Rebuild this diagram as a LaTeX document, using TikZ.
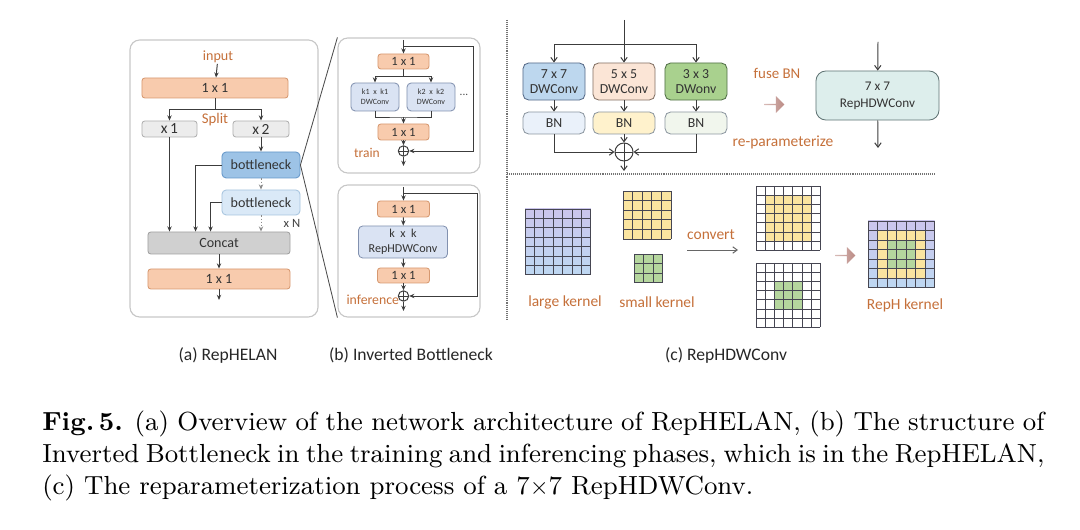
\documentclass[tikz,border=0pt]{standalone}
\usepackage{fontspec}
\usepackage{xcolor}
\usepackage{tikz}
\usetikzlibrary{positioning,arrows.meta,shapes.arrows,calc}
\newfontfamily\carlito{Carlito}
\newfontfamily\capfont{lmroman9-regular.otf}[BoldFont=lmroman9-bold.otf]

\definecolor{labor}{RGB}{197,112,58}
\definecolor{lnc}{RGB}{60,60,60}
\definecolor{peachF}{RGB}{248,203,173}
\definecolor{peachD}{RGB}{214,152,112}
\definecolor{grayF}{RGB}{236,236,236}
\definecolor{grayD}{RGB}{175,175,175}
\definecolor{catF}{RGB}{208,208,208}
\definecolor{catD}{RGB}{160,160,160}
\definecolor{bnAF}{RGB}{157,195,230}
\definecolor{bnAD}{RGB}{100,150,200}
\definecolor{bnBF}{RGB}{218,233,247}
\definecolor{bnBD}{RGB}{165,195,222}
\definecolor{dwbF}{RGB}{218,227,243}
\definecolor{dwbD}{RGB}{130,145,175}
\definecolor{dwsF}{RGB}{189,215,238}
\definecolor{dwsD}{RGB}{85,105,135}
\definecolor{dwmF}{RGB}{251,229,214}
\definecolor{dwmD}{RGB}{130,112,100}
\definecolor{dwlF}{RGB}{169,209,142}
\definecolor{dwlD}{RGB}{80,110,70}
\definecolor{bnsF}{RGB}{234,241,250}
\definecolor{bnmF}{RGB}{255,242,204}
\definecolor{bnlF}{RGB}{241,246,237}
\definecolor{bnxD}{RGB}{140,150,160}
\definecolor{rhF}{RGB}{221,238,236}
\definecolor{rhD}{RGB}{95,115,115}
\definecolor{barF}{RGB}{188,140,134}
\definecolor{kerlav}{RGB}{203,197,236}
\definecolor{kerblu}{RGB}{190,216,242}
\definecolor{keryel}{RGB}{250,228,160}
\definecolor{kergrn}{RGB}{181,214,158}
\definecolor{klineC}{RGB}{70,70,82}

\begin{document}
\begin{tikzpicture}[x=0.025cm, y=-0.025cm,
  panel/.style={rectangle, rounded corners=7pt, draw=black!22, line width=0.8pt},
  box/.style={rectangle, rounded corners=2pt, draw, line width=0.6pt, inner sep=0pt,
             align=center, text=black!80, font=\carlito\fontsize{10}{11}\selectfont},
  peach/.style={box, fill=peachF, draw=peachD},
  grayb/.style={box, fill=grayF, draw=grayD},
  bneck/.style={box, rounded corners=3pt, minimum width=1.95cm},
  dwb/.style={box, rounded corners=3pt, fill=dwbF, draw=dwbD},
  cbox/.style={box, rounded corners=4pt, minimum width=1.55cm,
             font=\carlito\fontsize{9.8}{10.5}\selectfont},
  lbl/.style={inner sep=0.5pt, text=labor, font=\carlito\fontsize{11}{12}\selectfont},
  subcap/.style={inner sep=0pt, text=black!85, font=\carlito\fontsize{12.5}{14}\selectfont},
  figcap/.style={inner sep=0pt, anchor=base west, font=\capfont\fontsize{18.6}{22.8}\selectfont},
  plus/.style={circle, draw=lnc, line width=0.7pt, inner sep=0pt,
             path picture={\draw[lnc, line width=0.7pt]
               (path picture bounding box.north) -- (path picture bounding box.south)
               (path picture bounding box.west) -- (path picture bounding box.east);}},
  blockarr/.style={single arrow, draw=none, left color=barF!60, right color=barF,
             minimum height=0.5cm, minimum width=0.42cm, single arrow head extend=0.09cm,
             inner sep=0pt},
  arr/.style={-{Stealth[length=1.3mm,width=1.1mm]}, line width=0.7pt, lnc},
  darr/.style={-{Stealth[length=1.3mm,width=1.1mm]}, line width=0.7pt, black!45,
             dash pattern=on 1.2pt off 1pt},
  carr/.style={-{Straight Barb[length=1.1mm,width=1.6mm]}, line width=0.7pt, lnc},
  zoomln/.style={line width=0.6pt, black!70},
  sepln/.style={line width=0.8pt, black!55, dash pattern=on 0.7pt off 0.7pt},
  kgrid/.style={line width=0.45pt, klineC},
]
\useasboundingbox (0,0) rectangle (1080,530);

% (a) RepHELAN
\node[panel, minimum width=4.7cm, minimum height=6.925cm] (pa) at (224,178.5) {};
\node[lbl, font=\carlito\fontsize{10}{11}\selectfont] (ain) at (218,57) {input};
\node[peach, minimum width=3.65cm, minimum height=0.5cm] (a1) at (215,88) {1 x 1};
\node[lbl, font=\carlito\fontsize{10.5}{11}\selectfont] (split) at (215,120) {Split};
\node[grayb, minimum width=1.375cm, minimum height=0.4cm, font=\carlito\fontsize{11}{12}\selectfont] (x1) at (169.5,129) {x\,1};
\node[grayb, minimum width=1.4cm, minimum height=0.4cm, font=\carlito\fontsize{11}{12}\selectfont] (x2) at (261,129) {x\,2};
\node[bneck, fill=bnAF, draw=bnAD, minimum height=0.65cm] (bn1) at (261,165) {bottleneck};
\node[bneck, fill=bnBF, draw=bnBD, minimum height=0.625cm] (bn2) at (261,202.5) {bottleneck};
\node[inner sep=0pt, text=black!75, font=\carlito\fontsize{9}{10}\selectfont] (xn) at (292,223) {x N};
\node[box, fill=catF, draw=catD, minimum width=3.55cm, minimum height=0.55cm] (cat) at (219,243) {Concat};
\node[peach, minimum width=3.55cm, minimum height=0.5cm] (a2) at (219,279) {1 x 1};
\coordinate (aout) at (219,300);

\draw[arr] (ain) -- (a1);
\draw[arr] (a1.south) -- ++(0,11) -| (x1.north);
\draw[arr] (a1.south) -- ++(0,11) -| (x2.north);
\draw[arr] (x2) -- (bn1);
\draw[arr] (x1.south) -- (x1.south |- cat.north);
\draw[arr] (bn1.west) -| ([xshift=1.2cm]cat.north west);
\draw[arr] (bn2.west) -| ([xshift=1.575cm]cat.north west);
\draw[darr] (bn1) -- (bn2);
\draw[darr] (bn2.south) -- (bn2.south |- cat.north);
\draw[arr] (cat) -- (a2);
\draw[arr] (a2) -- (aout);

% (b) Inverted Bottleneck, train
\node[panel, minimum width=3.55cm, minimum height=3.375cm] (pb1) at (409,105.5) {};
\coordinate (tin) at (403.5,40);
\coordinate (tres) at (473,46);
\node[peach, minimum width=1.275cm, minimum height=0.375cm, font=\carlito\fontsize{9}{10}\selectfont] (t1) at (403.5,61.5) {1 x 1};
\node[dwb, minimum width=1.2cm, minimum height=0.7cm, font=\carlito\fontsize{5.7}{7}\selectfont] (k1) at (375,97) {k1\ \ x\ \ k1\\DWConv};
\node[dwb, minimum width=1.2cm, minimum height=0.7cm, font=\carlito\fontsize{5.7}{7}\selectfont] (k2) at (431,97) {k2\ \ x\ \ k2\\DWConv};
\node[inner sep=0pt, text=black!70, font=\carlito\fontsize{8}{9}\selectfont] (dots) at (464,95) {...};
\coordinate (tj) at (403.5,117);
\node[peach, minimum width=1.275cm, minimum height=0.4cm, font=\carlito\fontsize{9}{10}\selectfont] (t2) at (403.5,132) {1 x 1};
\node[plus, minimum size=0.26cm] (tp) at (403.5,151) {};
\coordinate (tout) at (403.5,166);
\node[lbl, font=\carlito\fontsize{9.6}{11}\selectfont] (train) at (367,153) {train};

\draw[arr] (tin) -- (t1);
\draw[arr] (tin |- tres) -- (tres) |- (tp.east);
\draw[arr] (t1.south) -- ++(0,7) -| (k1.north);
\draw[arr] (t1.south) -- ++(0,7) -| (k2.north);
\draw[lnc, line width=0.7pt] (k1.south) |- (tj) -| (k2.south);
\draw[arr] (tj) -- (t2);
\draw[arr] (t2) -- (tp);
\draw[arr] (tp) -- (tout);

% (b) Inverted Bottleneck, inference
\node[panel, minimum width=3.55cm, minimum height=3.3cm] (pb2) at (409,251) {};
\coordinate (iin) at (403.5,187);
\coordinate (ires) at (477,193);
\node[peach, minimum width=1.3cm, minimum height=0.4cm, font=\carlito\fontsize{9}{10}\selectfont] (i1) at (403.5,209) {1 x 1};
\node[dwb, minimum width=2.225cm, minimum height=0.8cm, font=\carlito\fontsize{8.6}{10.7}\selectfont] (rhk) at (403,242) {k\ \ x\ \ k\\RepHDWConv};
\node[peach, minimum width=1.3cm, minimum height=0.375cm, font=\carlito\fontsize{9}{10}\selectfont] (i2) at (403.5,275.5) {1 x 1};
\node[plus, minimum size=0.26cm] (ip) at (403.5,296) {};
\coordinate (iout) at (403.5,311);
\node[lbl, anchor=east, font=\carlito\fontsize{9.8}{11}\selectfont] (infer) at (400,300) {inference};

\draw[arr] (iin) -- (i1);
\draw[arr] (iin |- ires) -- (ires) |- (ip.east);
\draw[arr] (i1) -- (rhk);
\draw[arr] (rhk) -- (i2);
\draw[arr] (i2) -- (ip);
\draw[arr] (ip) -- (iout);

% zoom lines from bottleneck
\draw[zoomln] (bn1.east) -- (pb1.north west);
\draw[zoomln] (bn1.east) -- (pb2.south west);

% (c) RepHDWConv
\coordinate (vtop) at (507,20);
\coordinate (vbot) at (507,320);
\coordinate (hl) at (507,174);
\coordinate (hr) at (935,174);
\draw[sepln] (vtop) -- (vbot);
\draw[sepln] (hl) -- (hr);

\coordinate (cin) at (624,20);
\coordinate (cbr) at (624,44);
\node[cbox, fill=dwsF, draw=dwsD, minimum height=0.925cm] (dw7) at (554,81.5) {7 x 7\\DWConv};
\node[cbox, fill=dwmF, draw=dwmD, minimum height=0.925cm] (dw5) at (624,81.5) {5 x 5\\DWConv};
\node[cbox, fill=dwlF, draw=dwlD, minimum height=0.925cm] (dw3) at (696,81.5) {3 x 3\\DWonv};
\node[cbox, fill=bnsF, draw=bnxD, minimum height=0.55cm] (bn7) at (554,123) {BN};
\node[cbox, fill=bnmF, draw=bnxD, minimum height=0.55cm] (bn5) at (624,123) {BN};
\node[cbox, fill=bnlF, draw=bnxD, minimum height=0.55cm] (bn3) at (696,123) {BN};
\node[plus, minimum size=0.45cm] (cp) at (624,152) {};
\coordinate (cout) at (624,171);

\draw[carr] (cin) -- (dw5);
\draw[carr] (cbr) -| (dw7.north);
\draw[carr] (cbr) -| (dw3.north);
\draw[carr] (dw7) -- (bn7);
\draw[carr] (dw5) -- (bn5);
\draw[carr] (dw3) -- (bn3);
\draw[carr] (bn7.south) |- (cp.west);
\draw[carr] (bn3.south) |- (cp.east);
\draw[carr] (bn5) -- (cp);
\draw[carr] (cp) -- (cout);

\node[lbl, font=\carlito\fontsize{10.6}{12}\selectfont] (fuse) at (777,73) {fuse BN};
\node[blockarr] (ba1) at (774,104.5) {};
\node[lbl] (repar) at (783,142) {re-parameterize};
\node[cbox, fill=rhF, draw=rhD, rounded corners=7pt, minimum width=3.075cm, minimum height=1.225cm,
      font=\carlito\fontsize{9.4}{11.9}\selectfont] (rh7) at (877.5,95.5) {7 x 7\\RepHDWConv};
\coordinate (rhin) at (878,42);
\coordinate (rhout) at (878,148);
\draw[carr] (rhin) -- (rh7);
\draw[carr] (rh7) -- (rhout);

% kernels
\shade[top color=kerlav, bottom color=kerblu] (525,209) rectangle ++(65.8,65.8);
\fill[keryel] (623,191) rectangle ++(48,48);
\fill[kergrn] (634,254) rectangle ++(28.5,28.5);
\fill[keryel] (765.2,195.2) rectangle ++(46,46);
\fill[kergrn] (774.4,281.4) rectangle ++(27.6,27.6);
\shade[top color=kerlav, bottom color=kerblu] (868,221) rectangle ++(66.5,66.5);
\fill[keryel] (877.5,230.5) rectangle ++(47.5,47.5);
\fill[kergrn] (887,240) rectangle ++(28.5,28.5);
\foreach \gx/\gy/\gs/\gn in {525/209/9.4/7, 623/191/9.6/5, 634/254/9.5/3,
                            756/186/9.2/7, 756/263/9.2/7, 868/221/9.5/7}
  \foreach \k in {0,...,\gn}
    \draw[kgrid] (\gx+\k*\gs,\gy) -- (\gx+\k*\gs,\gy+\gn*\gs)
                 (\gx,\gy+\k*\gs) -- (\gx+\gn*\gs,\gy+\k*\gs);

\node[lbl] (lk) at (565,302) {large kernel};
\node[lbl] (sk) at (657,302) {small kernel};
\node[lbl] (cvt) at (711,235) {convert};
\coordinate (cvl) at (687,250);
\coordinate (cvr) at (738,250);
\draw[carr, black!60] (cvl) -- (cvr);
\node[blockarr] (ba2) at (845,255.5) {};
\node[lbl] (rk) at (905,305) {RepH kernel};

% sub captions
\node[subcap] (capa) at (228,355) {(a) RepHELAN};
\node[subcap] (capb) at (411,355) {(b) Inverted Bottleneck};
\node[subcap] (capc) at (726,355) {(c) RepHDWConv};

% figure caption
\node[figcap] (cap1) at (42,431) {\makebox[25.05cm][s]{\textbf{Fig.\,5.} (a) Overview of the network architecture of RepHELAN, (b) The structure of}};
\node[figcap] (cap2) at (42,463) {\makebox[25.05cm][s]{Inverted Bottleneck in the training and inferencing phases, which is in the RepHELAN,}};
\node[figcap] (cap3) at (42,495) {(c) The reparameterization process of a 7$\times$7 RepHDWConv.};
\end{tikzpicture}
\end{document}
